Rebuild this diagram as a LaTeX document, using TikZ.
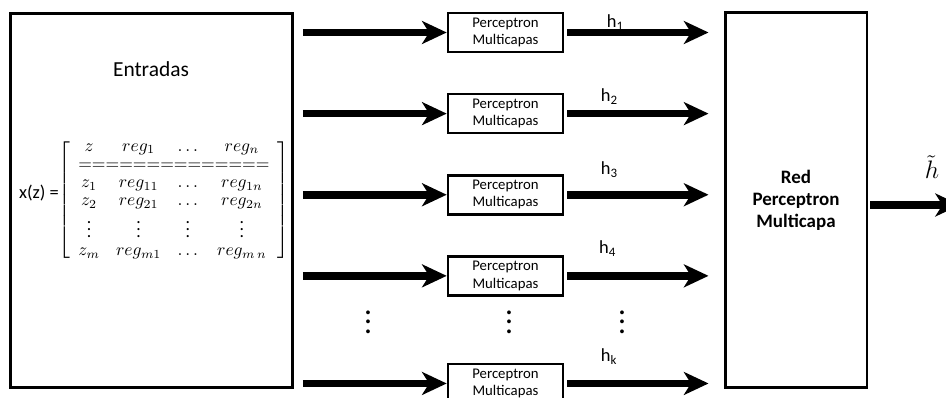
\documentclass[tikz,border=0pt]{standalone}
\usepackage[no-math]{fontspec}
\setmainfont{Carlito}
\usetikzlibrary{positioning, arrows.meta}

\begin{document}
\begin{tikzpicture}[x=0.02cm, y=-0.02cm,
    node distance=0.79cm,
    every node/.style={font=\fontsize{9.5}{11.4}\selectfont},
    bigbox/.style={rectangle, draw, line width=1.7pt},
    pmbox/.style={rectangle, draw, line width=1.5pt, minimum width=2.3cm, minimum height=0.78cm, inner sep=0pt, align=center, font=\fontsize{8.4}{9.8}\selectfont},
    arrow/.style={-{Stealth[length=14pt, width=13pt, inset=4pt]}, line width=4.4pt},
    hlab/.style={anchor=base west, inner sep=0pt, font=\fontsize{10.5}{12}\selectfont},
    dotcol/.style={inner sep=0pt, align=center, font=\fontsize{18}{5.4}\selectfont}]

  \useasboundingbox (0,0) rectangle (946,398);

  % entradas
  \node[bigbox, minimum width=5.66cm, minimum height=7.5cm] (inp) at (151.5,200.5) {};
  \node[font=\fontsize{12.2}{14}\selectfont] (tit) at (151,69) {Entradas};
  \node[font=\fontsize{10.5}{12}\selectfont] (xz) at (39,193) {x(z) =};
  \node[inner sep=0pt, font=\fontsize{10}{12}\selectfont] (mat) at (174,200) {$\renewcommand{\arraystretch}{0.86}\setlength{\arraycolsep}{4.6pt}\left[\begin{array}{cccc}
      z & reg_1 & \dots & reg_n\\
      \multicolumn{4}{c}{==============}\\
      z_1 & reg_{11} & \dots & reg_{1n}\\
      z_2 & reg_{21} & \dots & reg_{2n}\\
      \vdots & \vdots & \vdots & \vdots\\
      z_m & reg_{m1} & \dots & reg_{m\,n}
    \end{array}\right]$};

  % perceptrones
  \node[pmbox] (pm1) at (505.5,32.5) {Perceptron\\Multicapas};
  \node[pmbox, below=of pm1] (pm2) {Perceptron\\Multicapas};
  \node[pmbox, below=of pm2] (pm3) {Perceptron\\Multicapas};
  \node[pmbox, below=of pm3] (pm4) {Perceptron\\Multicapas};
  \node[pmbox, below=1.32cm of pm4] (pm5) {Perceptron\\Multicapas};

  \node[dotcol] (dots1) at (368,322) {.\\.\\.};
  \node[dotcol] (dots2) at (509,322) {.\\.\\.};
  \node[dotcol] (dots3) at (622,322) {.\\.\\.};

  % red final
  \node[bigbox, minimum width=2.84cm, minimum height=7.52cm, align=center, font=\bfseries\fontsize{10.8}{12.6}\selectfont] (rp) at (796,200) {Red\\Perceptron\\Multicapa};
  \coordinate (out) at (960,205);
  \node[font=\fontsize{15}{18}\selectfont] (htil) at (932,167) {$\tilde{h}$};

  \draw[arrow, shorten <=0.17cm] (inp.east |- pm1.west) -- (pm1.west);
  \draw[arrow, shorten <=0.17cm] (inp.east |- pm2.west) -- (pm2.west);
  \draw[arrow, shorten <=0.17cm] (inp.east |- pm3.west) -- (pm3.west);
  \draw[arrow, shorten <=0.17cm] (inp.east |- pm4.west) -- (pm4.west);
  \draw[arrow, shorten <=0.17cm] (inp.east |- pm5.west) -- (pm5.west);

  \draw[arrow, shorten <=0.06cm, shorten >=0.3cm] (pm1.east) -- node[hlab, pos=0.243, yshift=0.1cm]{h\textsubscript{1}} (rp.west |- pm1.east);
  \draw[arrow, shorten <=0.06cm, shorten >=0.3cm] (pm2.east) -- node[hlab, pos=0.205, yshift=0.24cm]{h\textsubscript{2}} (rp.west |- pm2.east);
  \draw[arrow, shorten <=0.06cm, shorten >=0.3cm] (pm3.east) -- node[hlab, pos=0.205, yshift=0.4cm]{h\textsubscript{3}} (rp.west |- pm3.east);
  \draw[arrow, shorten <=0.06cm, shorten >=0.3cm] (pm4.east) -- node[hlab, pos=0.195, yshift=0.44cm]{h\textsubscript{4}} (rp.west |- pm4.east);
  \draw[arrow, shorten <=0.06cm, shorten >=0.3cm] (pm5.east) -- node[hlab, pos=0.205, yshift=0.44cm]{h\textsubscript{k}} (rp.west |- pm5.east);

  \draw[arrow, shorten <=0.04cm] (rp.east |- out) -- (out);
\end{tikzpicture}
\end{document}
